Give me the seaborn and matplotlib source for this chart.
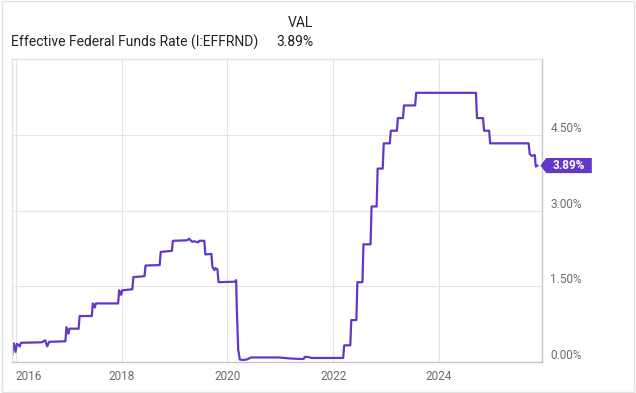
import matplotlib
matplotlib.use('Agg')
import matplotlib.pyplot as plt
import matplotlib.transforms as mtransforms
from matplotlib.patches import Polygon, Rectangle
import pandas as pd
import seaborn as sns

# Effective Federal Funds Rate (step changes)
dates = [
    '2015-12-07', '2015-12-18', '2015-12-31', '2016-01-08', '2016-01-29', '2016-02-05',
    '2016-06-30', '2016-07-22', '2016-08-05', '2016-08-19', '2016-12-09', '2016-12-16',
    '2016-12-30', '2017-01-06', '2017-03-10', '2017-03-17', '2017-06-09', '2017-06-16',
    '2017-06-30', '2017-07-07', '2017-12-08', '2017-12-15', '2017-12-29', '2018-01-05',
    '2018-03-16', '2018-03-23', '2018-06-08', '2018-06-15', '2018-09-21', '2018-09-28',
    '2018-12-14', '2018-12-21', '2019-03-29', '2019-04-12', '2019-05-03', '2019-05-17',
    '2019-06-14', '2019-06-21', '2019-07-26', '2019-08-02', '2019-09-13', '2019-09-20',
    '2019-10-04', '2019-10-11', '2019-10-25', '2019-11-01', '2020-02-21', '2020-03-02',
    '2020-03-06', '2020-03-16', '2020-03-27', '2020-04-17', '2020-05-15', '2020-06-12',
    '2020-09-18', '2020-12-18', '2021-03-12', '2021-05-14', '2021-06-11', '2021-06-18',
    '2021-07-09', '2021-08-06', '2022-03-11', '2022-03-18', '2022-04-29', '2022-05-06',
    '2022-06-10', '2022-06-17', '2022-07-22', '2022-07-29', '2022-09-16', '2022-09-23',
    '2022-10-28', '2022-11-04', '2022-12-09', '2022-12-16', '2023-01-27', '2023-02-03',
    '2023-03-17', '2023-03-24', '2023-04-28', '2023-05-05', '2023-07-21', '2023-07-28',
    '2024-09-13', '2024-09-20', '2024-11-01', '2024-11-08', '2024-12-13', '2024-12-20',
    '2025-09-12', '2025-09-19', '2025-10-03', '2025-10-24', '2025-10-31', '2025-11-13',
]
rates = [
    0.13, 0.37, 0.20, 0.36, 0.31, 0.38,
    0.39, 0.43, 0.31, 0.40, 0.41, 0.69,
    0.56, 0.66, 0.66, 0.91, 0.91, 1.16,
    1.08, 1.16, 1.16, 1.42, 1.33, 1.42,
    1.44, 1.68, 1.70, 1.91, 1.92, 2.18,
    2.20, 2.40, 2.41, 2.44, 2.38, 2.39,
    2.37, 2.40, 2.40, 2.13, 2.14, 1.88,
    1.82, 1.86, 1.83, 1.58, 1.59, 1.62,
    1.10, 0.25, 0.05, 0.04, 0.05, 0.09,
    0.09, 0.09, 0.07, 0.06, 0.06, 0.10,
    0.10, 0.08, 0.08, 0.33, 0.33, 0.83,
    0.83, 1.58, 1.58, 2.33, 2.33, 3.08,
    3.08, 3.83, 3.83, 4.33, 4.33, 4.58,
    4.58, 4.83, 4.83, 5.08, 5.08, 5.33,
    5.33, 4.83, 4.83, 4.58, 4.58, 4.33,
    4.33, 4.12, 4.08, 4.10, 3.87, 3.89,
]

series_name = 'Effective Federal Funds Rate (I:EFFRND)'
y_ticks = [0.0, 1.5, 3.0, 4.5]
x_tick_dates = ['2016-01-01', '2018-01-01', '2020-01-01', '2022-01-01', '2024-01-01']
x_tick_labels = ['2016', '2018', '2020', '2022', '2024']

LINE = '#6338c6'
TEXT = '#222222'
TICK = '#6b6b6b'

sns.set_theme(style='white')
plt.rcParams['font.family'] = ['Roboto', 'DejaVu Sans']

df = pd.DataFrame({'date': pd.to_datetime(dates), 'rate': rates})

fig = plt.figure(figsize=(6.36, 3.93), dpi=100)
ax = fig.add_axes([12 / 636, 1 - 362 / 393, 530 / 636, 303 / 393])

sns.lineplot(data=df, x='date', y='rate', ax=ax, color=LINE, linewidth=1.6)

ax.set_xlim(pd.Timestamp('2015-12-06'), pd.Timestamp('2025-12-13'))
ax.set_ylim(0, 6.0)
ax.set_xlabel('')
ax.set_ylabel('')

# axes / ticks
ax.yaxis.tick_right()
ax.set_yticks(y_ticks)
ax.set_yticklabels([f'{v:.2f}%' for v in y_ticks])
ax.set_xticks(pd.to_datetime(x_tick_dates))
ax.set_xticklabels(x_tick_labels)
ax.tick_params(axis='both', length=0, labelsize=8.5, colors=TICK)
ax.tick_params(axis='y', pad=6)
ax.tick_params(axis='x', pad=6)
for lab in ax.get_yticklabels():
    lab.set_verticalalignment('bottom')
ax.get_xticklabels()[0].set_horizontalalignment('left')

ax.grid(True, color='#e4e4e4', linewidth=0.8)
for side in ['top', 'left']:
    ax.spines[side].set_color('#e2e2e2')
for side in ['bottom', 'right']:
    ax.spines[side].set_color('#c6c6c6')
for sp in ax.spines.values():
    sp.set_linewidth(1)

# last value tag on the right axis
last = df['rate'].iloc[-1]
trans = mtransforms.blended_transform_factory(ax.transAxes, ax.transData)
h = 0.15
tag = Polygon([(0.997, last), (1.008, last + h), (1.094, last + h),
               (1.094, last - h), (1.008, last - h)],
              closed=True, transform=trans, clip_on=False,
              facecolor=LINE, edgecolor='none', zorder=5)
ax.add_patch(tag)
ax.text(1.051, last, f'{last:.2f}%', transform=trans, ha='center', va='center',
        color='white', fontsize=8.5, fontweight='bold', clip_on=False, zorder=6)

# header
fig.text(11 / 636, 1 - 42 / 393, series_name, ha='left', va='center',
         fontsize=10, color=TEXT)
fig.text(313 / 636, 1 - 23 / 393, 'VAL', ha='right', va='center',
         fontsize=10, color=TEXT)
fig.text(313 / 636, 1 - 42 / 393, f'{last:.2f}%', ha='right', va='center',
         fontsize=10, color=TEXT)

fig.add_artist(Rectangle((0.003, 0.002), 0.994, 0.995, transform=fig.transFigure,
                         fill=False, edgecolor='#e2e2e2', linewidth=1))

fig.savefig('out.png', dpi=100)
